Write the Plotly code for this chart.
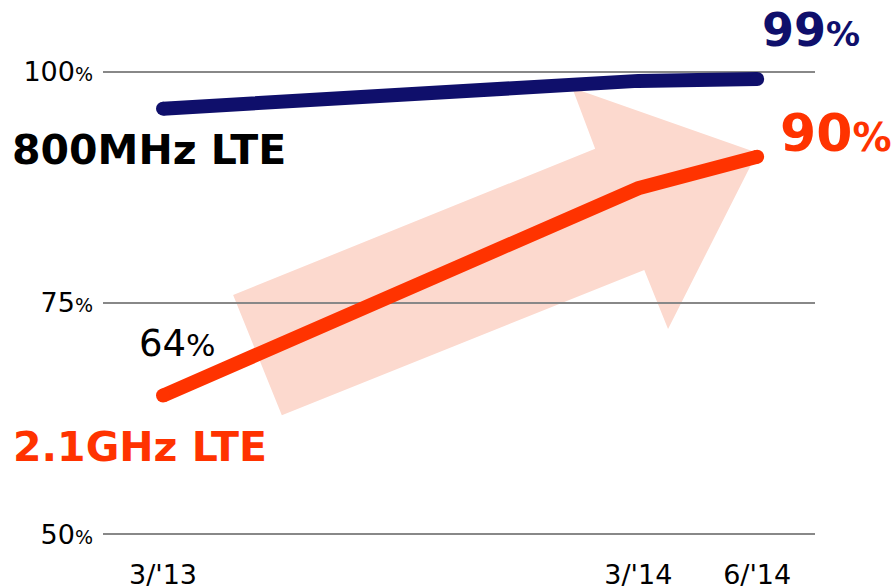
import plotly.graph_objects as go

# Data
months = [0, 12, 15]                      # months since 3/'13
x_tickvals = [0, 12, 15]
x_ticktext = ["3/'13", "3/'14", "6/'14"]
lte800 = [96.0, 99.0, 99.2]
lte21 = [65.0, 87.4, 90.8]
y_tickvals = [50, 75, 100]
y_ticktext = ["50", "75", "100"]

NAVY = "#0F0F6B"
ORANGE = "#FF3300"
FONT = "DejaVu Sans"

fig = go.Figure()

# big pale arrow (decoration), in data coordinates
arrow = [(1.77, 75.87), (10.91, 91.67), (10.33, 98.27), (15.0, 91.23),
         (12.75, 72.19), (12.15, 78.57), (3.0, 62.88)]
path = "M " + " L ".join(f"{x},{y}" for x, y in arrow) + " Z"
fig.add_shape(type="path", path=path, xref="x", yref="y", layer="below",
              fillcolor="#FCD9CE", line=dict(width=0))

for vals, col in [(lte800, NAVY), (lte21, ORANGE)]:
    fig.add_trace(go.Scatter(
        x=months, y=vals, mode="lines",
        line=dict(color=col, width=14), hoverinfo="skip", cliponaxis=False))
    fig.add_trace(go.Scatter(
        x=[months[0], months[-1]], y=[vals[0], vals[-1]], mode="markers",
        marker=dict(color=col, size=14, line=dict(width=0)),
        hoverinfo="skip", cliponaxis=False))

# labels anchored at data points, offset in pixels
annos = [
    dict(text="<b>800MHz LTE</b>", x=months[0], y=lte800[0], dx=-153, dy=-41,
         color="#000000", size=41),
    dict(text="<b>2.1GHz LTE</b>", x=months[0], y=lte21[0], dx=-152, dy=-51,
         color=ORANGE, size=41),
    dict(text="64<span style='font-size:31px'>%</span>", x=months[0], y=lte21[0],
         dx=-26, dy=52, color="#000000", size=37),
    dict(text="<b>99<span style='font-size:34px'>%</span></b>", x=months[-1],
         y=lte800[-1], dx=3, dy=49, color=NAVY, size=46),
    dict(text="<b>90<span style='font-size:39px'>%</span></b>", x=months[-1],
         y=lte21[-1], dx=21, dy=24, color=ORANGE, size=52),
]
for a in annos:
    fig.add_annotation(text=a["text"], x=a["x"], y=a["y"], xref="x", yref="y",
                       xshift=a["dx"], yshift=a["dy"],
                       xanchor="left", yanchor="middle", showarrow=False,
                       font=dict(family=FONT, size=a["size"], color=a["color"]))

fig.update_layout(
    width=894, height=588,
    margin=dict(l=103, r=79, t=67.4, b=49.4, pad=0),
    paper_bgcolor="white", plot_bgcolor="white",
    showlegend=False,
    font=dict(family=FONT, color="#000000"),
    xaxis=dict(range=[-1.515, 16.46], tickvals=x_tickvals, ticktext=x_ticktext,
               showgrid=False, zeroline=False, showline=False, ticks="",
               automargin=False,
               tickfont=dict(size=27, family=FONT), ticklabelstandoff=17),
    yaxis=dict(range=[49.5, 100.5], tickvals=y_tickvals,
               ticktext=[t + "<span style='font-size:19px'>%</span>" for t in y_ticktext],
               showgrid=True, gridcolor="#888888", gridwidth=1.5,
               zeroline=False, showline=False, ticks="", automargin=False,
               tickfont=dict(size=27, family=FONT), ticklabelstandoff=9),
)

fig.write_html("out.html", config={"displayModeBar": False},
               post_script="document.body.style.margin='0px';")
